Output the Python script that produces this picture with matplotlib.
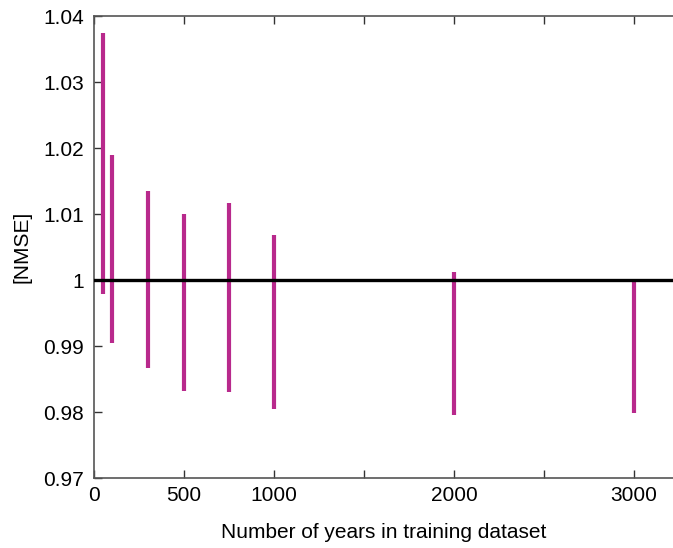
import matplotlib
matplotlib.use("Agg")
import matplotlib.pyplot as plt

plt.rcParams['font.family'] = ['Liberation Sans', 'DejaVu Sans']

# training set sizes (years) and NMSE ranges
years = [50, 100, 300, 500, 750, 1000, 2000, 3000]
nmse_low = [0.9979, 0.9905, 0.9867, 0.9832, 0.9830, 0.9804, 0.9795, 0.9798]
nmse_high = [1.0375, 1.0190, 1.0135, 1.0100, 1.0116, 1.0068, 1.0012, 1.0000]

xticks = [0, 500, 1000, 1500, 2000, 2500, 3000]
xticklabels = ['0', '500', '1000', '', '2000', '', '3000']
yticks = [0.97, 0.98, 0.99, 1.00, 1.01, 1.02, 1.03, 1.04]
yticklabels = ['0.97', '0.98', '0.99', '1', '1.01', '1.02', '1.03', '1.04']

fig = plt.figure(figsize=(6.73, 5.48), dpi=100)
ax = fig.add_axes([94/673, 1 - 478/548, 1 - 94/673, (478 - 16)/548])

ax.axhline(1.0, color='black', lw=2.4, zorder=3)
ax.vlines(years, nmse_low, nmse_high, color='#b8298c', lw=3, zorder=2)

ax.set_xlim(0, (673 - 94) / 0.18)
ax.set_ylim(0.97, 1.04)
ax.set_xticks(xticks)
ax.set_xticklabels(xticklabels)
ax.set_yticks(yticks)
ax.set_yticklabels(yticklabels)
ax.tick_params(direction='in', length=6, width=1, colors='#333333',
               labelcolor='black', labelsize=15, top=True)
ax.tick_params(axis='y', pad=7)
ax.tick_params(axis='x', pad=6)
ax.spines['right'].set_visible(False)
for s in ['left', 'bottom', 'top']:
    ax.spines[s].set_color('#555555')
    ax.spines[s].set_linewidth(1.2)

ax.set_xlabel('Number of years in training dataset', fontsize=15)
ax.set_ylabel('[NMSE]', fontsize=15)
ax.xaxis.set_label_coords(0.5, -(533 - 478) / 462, transform=ax.transAxes)
ax.yaxis.set_label_coords(-(94 - 22) / 579, 0.5, transform=ax.transAxes)
ax.xaxis.label.set_va('center')
ax.yaxis.label.set_va('center')

fig.savefig('out.png', dpi=100)
